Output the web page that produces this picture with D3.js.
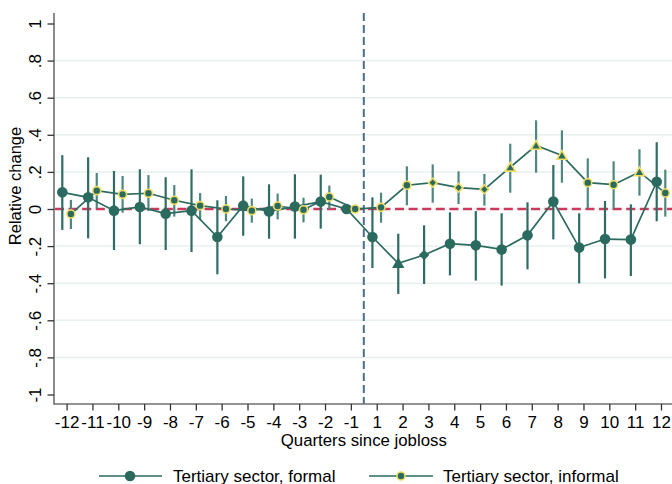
<!DOCTYPE html>
<html>
<head>
<meta charset="utf-8">
<script src="https://cdn.jsdelivr.net/npm/d3@7"></script>
<style>
  body { margin: 0; background: #fff; }
  svg { display: block; }
  text { font-family: "Liberation Sans", Arial, sans-serif; fill: #000; }
</style>
</head>
<body>
<svg id="chart" width="672" height="484"></svg>
<script>
// Event-study quarters (reference quarter -1, no quarter 0)
const quarters = [-12, -11, -10, -9, -8, -7, -6, -5, -4, -3, -2, -1,
                  1, 2, 3, 4, 5, 6, 7, 8, 9, 10, 11, 12];

const yTicks = [-1, -0.8, -0.6, -0.4, -0.2, 0, 0.2, 0.4, 0.6, 0.8, 1];
const yTickLabels = ["-1", "-.8", "-.6", "-.4", "-.2", "0", ".2", ".4", ".6", ".8", "1"];

// Tertiary sector, formal
const formalEst = [0.090, 0.063, -0.009, 0.011, -0.025, -0.009, -0.151, 0.018, -0.013, 0.013, 0.040, 0,
                   -0.151, -0.293, -0.248, -0.187, -0.196, -0.218, -0.142, 0.040, -0.208, -0.162, -0.165, 0.147];
const formalLo  = [-0.113, -0.158, -0.221, -0.190, -0.221, -0.232, -0.352, -0.144, -0.160, -0.160, -0.106, null,
                   -0.318, -0.458, -0.404, -0.358, -0.386, -0.413, -0.325, -0.164, -0.401, -0.374, -0.361, -0.066];
const formalHi  = [0.290, 0.279, 0.205, 0.214, 0.171, 0.214, 0.047, 0.176, 0.133, 0.187, 0.185, null,
                   0.063, -0.133, -0.088, -0.018, -0.011, -0.023, 0.036, 0.237, -0.023, 0.043, 0.025, 0.360];
const formalShape = ["circle", "circle", "circle", "circle", "circle", "circle", "circle", "circle", "circle", "circle", "circle", "circle",
                     "circle", "triangle", "diamond", "circle", "circle", "circle", "circle", "circle", "circle", "circle", "circle", "circle"];

// Tertiary sector, informal
const informalEst = [-0.027, 0.099, 0.079, 0.085, 0.047, 0.018, 0.000, -0.009, 0.016, -0.004, 0.065, 0,
                     0.009, 0.128, 0.142, 0.115, 0.106, 0.225, 0.343, 0.289, 0.142, 0.131, 0.200, 0.086];
const informalLo  = [-0.108, 0.004, -0.020, -0.011, -0.041, -0.059, -0.066, -0.074, -0.056, -0.072, 0.000, null,
                     -0.074, 0.020, 0.034, 0.027, 0.018, 0.088, 0.196, 0.142, 0.004, 0.002, 0.072, -0.041];
const informalHi  = [0.049, 0.194, 0.178, 0.183, 0.129, 0.086, 0.070, 0.056, 0.083, 0.061, 0.126, null,
                     0.088, 0.230, 0.241, 0.203, 0.189, 0.352, 0.478, 0.424, 0.273, 0.257, 0.322, 0.212];
const informalShape = ["circle", "circle", "circle", "circle", "circle", "circle", "circle", "circle", "circle", "circle", "circle", "circle",
                       "circle", "circle", "diamond", "diamond", "diamond", "triangle", "triangle", "triangle", "circle", "circle", "triangle", "circle"];

const seriesNames = ["Tertiary sector, formal", "Tertiary sector, informal"];

// Colours
const teal = "#2b6a5f";
const ciFormal = "#2f6c63";
const ciInformal = "#4e877f";
const yellow = "#efdc62";
const gridColor = "#e8eff0";

const svg = d3.select("#chart");

const plotLeft = 54, plotRight = 672, plotTop = 13, plotBottom = 404;

const x = d3.scalePoint().domain(quarters).range([66.6, 661]);
const y = d3.scaleLinear().domain([-1, 1]).range([394.5, 23.5]);
const offset = 4.3;

// Gridlines
svg.append("g").selectAll("line")
  .data(yTicks.filter(v => Math.abs(v) < 1))
  .join("line")
  .attr("x1", plotLeft + 1).attr("x2", plotRight)
  .attr("y1", d => y(d)).attr("y2", d => y(d))
  .attr("stroke", gridColor).attr("stroke-width", 1.5);

// Reference lines
svg.append("line")
  .attr("x1", plotLeft + 1).attr("x2", plotRight)
  .attr("y1", y(0)).attr("y2", y(0))
  .attr("stroke", "#c93a5c").attr("stroke-width", 2.4)
  .attr("stroke-dasharray", "9,4.6");

const midX = (x(-1) + x(1)) / 2;
svg.append("line")
  .attr("x1", midX).attr("x2", midX)
  .attr("y1", plotTop).attr("y2", plotBottom)
  .attr("stroke", "#4a6e8e").attr("stroke-width", 2)
  .attr("stroke-dasharray", "8,4");

// Marker shapes
const diamond = {
  draw(ctx, size) {
    const r = Math.sqrt(size / 2);
    ctx.moveTo(0, -r); ctx.lineTo(r, 0); ctx.lineTo(0, r); ctx.lineTo(-r, 0); ctx.closePath();
  }
};
const shapeType = { circle: d3.symbolCircle, triangle: d3.symbolTriangle, diamond: diamond };

function toPoints(est, lo, hi, shapes) {
  return quarters.map((q, i) => ({ q, est: est[i], lo: lo[i], hi: hi[i], shape: shapes[i] }));
}

function drawCI(pts, dx, ciColor) {
  svg.append("g").selectAll("line")
    .data(pts.filter(d => d.lo !== null))
    .join("line")
    .attr("x1", d => x(d.q) + dx).attr("x2", d => x(d.q) + dx)
    .attr("y1", d => y(d.lo)).attr("y2", d => y(d.hi))
    .attr("stroke", ciColor).attr("stroke-width", 2.2);
}

function drawLine(pts, dx) {
  svg.append("path")
    .datum(pts)
    .attr("d", d3.line().x(d => x(d.q) + dx).y(d => y(d.est)))
    .attr("fill", "none").attr("stroke", teal).attr("stroke-width", 1.7);
}

function drawMarkers(pts, dx, sizes, outline) {
  svg.append("g").selectAll("path")
    .data(pts)
    .join("path")
    .attr("transform", d => `translate(${x(d.q) + dx},${y(d.est) + (d.shape === "triangle" ? 1 : 0)})`)
    .attr("d", d => d3.symbol().type(shapeType[d.shape]).size(sizes[d.shape])())
    .attr("fill", teal)
    .attr("stroke", outline || "none")
    .attr("stroke-width", outline ? 1.6 : 0);
}

const formalSizes = { circle: Math.PI * 5.3 * 5.3, triangle: 66, diamond: 54 };
const informalSizes = { circle: Math.PI * 4 * 4, triangle: 44, diamond: 38 };

const fPts = toPoints(formalEst, formalLo, formalHi, formalShape);
const iPts = toPoints(informalEst, informalLo, informalHi, informalShape);
drawCI(fPts, -offset, ciFormal);
drawCI(iPts, offset, ciInformal);
drawLine(fPts, -offset);
drawLine(iPts, offset);
drawMarkers(fPts, -offset, formalSizes, null);
drawMarkers(iPts, offset, informalSizes, yellow);

// Axes
const axisColor = "#6f6f6f";
svg.append("line")
  .attr("x1", plotLeft).attr("x2", plotLeft)
  .attr("y1", plotTop).attr("y2", plotBottom + 0.8)
  .attr("stroke", axisColor).attr("stroke-width", 1.6);
svg.append("line")
  .attr("x1", plotLeft).attr("x2", plotRight)
  .attr("y1", plotBottom).attr("y2", plotBottom)
  .attr("stroke", axisColor).attr("stroke-width", 1.6);

const yAxis = svg.append("g")
  .attr("transform", `translate(${plotLeft},0)`)
  .call(d3.axisLeft(y).tickValues(yTicks)
        .tickFormat((d, i) => yTickLabels[i]).tickSize(6.5).tickSizeOuter(0));
yAxis.select(".domain").remove();
yAxis.selectAll(".tick line").attr("stroke", "#333").attr("stroke-width", 1.3);
yAxis.selectAll(".tick text")
  .attr("x", null).attr("dy", null)
  .attr("transform", "translate(-13,0) rotate(-90)")
  .attr("text-anchor", "middle")
  .attr("font-size", 17)
  .attr("fill", "#000");

const xAxis = svg.append("g")
  .attr("transform", `translate(0,${plotBottom})`)
  .call(d3.axisBottom(x).tickSize(6.5).tickSizeOuter(0));
xAxis.select(".domain").remove();
xAxis.selectAll(".tick line").attr("stroke", "#333").attr("stroke-width", 1.3);
xAxis.selectAll(".tick text")
  .attr("y", 23.5).attr("dy", null)
  .attr("font-size", 17)
  .attr("fill", "#000");

// Axis titles
svg.append("text")
  .attr("x", midX).attr("y", 445.5)
  .attr("text-anchor", "middle")
  .attr("font-size", 16.8)
  .text("Quarters since jobloss");

svg.append("text")
  .attr("transform", "translate(21,186) rotate(-90)")
  .attr("text-anchor", "middle")
  .attr("font-size", 16.5)
  .text("Relative change");

// Legend
const legend = [
  { name: seriesNames[0], x1: 99, x2: 162, mx: 130, tx: 173, outline: null, r: 5.3 },
  { name: seriesNames[1], x1: 369, x2: 433, mx: 401, tx: 443, outline: yellow, r: 4 }
];
const ly = 476;
const lg = svg.append("g").selectAll("g").data(legend).join("g");
lg.append("line")
  .attr("x1", d => d.x1).attr("x2", d => d.x2)
  .attr("y1", ly).attr("y2", ly)
  .attr("stroke", teal).attr("stroke-width", 1.7);
lg.append("circle")
  .attr("cx", d => d.mx).attr("cy", ly).attr("r", d => d.r)
  .attr("fill", teal)
  .attr("stroke", d => d.outline || "none")
  .attr("stroke-width", d => d.outline ? 1.6 : 0);
lg.append("text")
  .attr("x", d => d.tx).attr("y", 482)
  .attr("font-size", 17)
  .text(d => d.name);
</script>
</body>
</html>
